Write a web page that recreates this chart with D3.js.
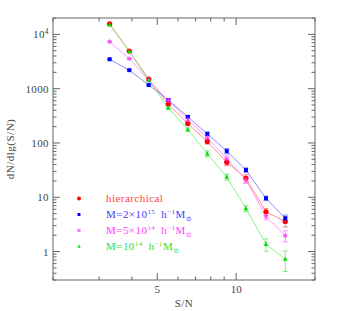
<!DOCTYPE html>
<html>
<head>
<meta charset="utf-8">
<script src="https://cdn.jsdelivr.net/npm/d3@7"></script>
<style>
  html, body { margin: 0; padding: 0; background: #fff; }
  text { font-family: "Liberation Serif", "DejaVu Serif", serif; }
</style>
</head>
<body>
<svg id="chart" width="343" height="311"></svg>
<script>
// S/N bin centres (log spaced) and counts per bin
var sn = [3.29, 3.91, 4.64, 5.51, 6.54, 7.76, 9.21, 10.9, 13.0, 15.4];

var hier      = [15600, 4940, 1500, 522, 228, 106, 44.4, 22.4, 5.4, 3.6];
var hierErr   = [120, 70, 40, 23, 15, 10, 6, 3.5, 0.8, 0.75];
var m2e15     = [3480, 2190, 1165, 618, 302, 147, 70.8, 31.8, 9.6, 4.1];
var m2e15Err  = [60, 45, 34, 25, 17, 12, 8, 3, 0.9, 0.6];
var m5e14     = [7310, 3570, 1440, 608, 269, 125, 51, 21, 4.45, 1.96];
var m5e14Err  = [85, 60, 38, 25, 16, 11, 6, 3, 0.6, 0.45];
var m1e14     = [15000, 4860, 1410, 441, 177, 63.4, 23.6, 6.24, 1.37, 0.73];
var m1e14Err  = [120, 70, 38, 21, 13, 8, 3, 0.8, 0.35, 0.3];

var yTickVals = [1, 10, 100, 1000, 10000];
var xTickVals = [5, 10];

var L = 53, T = 18, R = 315, B = 280;
var axisCol = "#666";

var svg = d3.select("#chart");

var x = d3.scaleLog().domain([2, 20]).range([L, R]);
var y = d3.scaleLog().domain([0.3, 20000]).range([B, T]);

// frame
svg.append("rect")
    .attr("x", L).attr("y", T)
    .attr("width", R - L).attr("height", B - T)
    .attr("fill", "none").attr("stroke", axisCol).attr("stroke-width", 1);

// minor + major ticks on all four sides, pointing in
var yMinor = [];
for (var e = -1; e <= 4; e++) {
    for (var k = 1; k <= 9; k++) {
        var v = k * Math.pow(10, e);
        if (v >= 0.3 && v <= 20000) yMinor.push({v: v, major: k === 1});
    }
}
var xMinor = [2, 3, 4, 5, 6, 7, 8, 9, 10, 20].map(v => ({v: v, major: (v === 5 || v === 10)}));

var ticks = svg.append("g").attr("stroke", axisCol).attr("stroke-width", 1);
ticks.selectAll(".yl").data(yMinor).join("line")
    .attr("x1", L).attr("x2", d => L + (d.major ? 7 : 3.5))
    .attr("y1", d => y(d.v)).attr("y2", d => y(d.v));
ticks.selectAll(".yr").data(yMinor).join("line")
    .attr("x1", R).attr("x2", d => R - (d.major ? 7 : 3.5))
    .attr("y1", d => y(d.v)).attr("y2", d => y(d.v));
ticks.selectAll(".xb").data(xMinor).join("line")
    .attr("y1", B).attr("y2", d => B - (d.major ? 7 : 3.5))
    .attr("x1", d => x(d.v)).attr("x2", d => x(d.v));
ticks.selectAll(".xt").data(xMinor).join("line")
    .attr("y1", T).attr("y2", d => T + (d.major ? 7 : 3.5))
    .attr("x1", d => x(d.v)).attr("x2", d => x(d.v));

// tick labels
var yLab = svg.append("g").attr("fill", "#444").attr("font-size", 11)
    .attr("text-anchor", "end").attr("letter-spacing", 0.4);
yTickVals.forEach(function(v) {
    var t = yLab.append("text").attr("x", L - 4).attr("y", y(v) + 4);
    if (v === 10000) {
        t.append("tspan").text("10");
        t.append("tspan").attr("font-size", 7.5).attr("dy", -4).text("4");
    } else {
        t.text(v);
    }
});
svg.append("g").attr("fill", "#444").attr("font-size", 11)
    .attr("text-anchor", "middle")
    .selectAll("text").data(xTickVals).join("text")
    .attr("x", d => x(d)).attr("y", B + 13)
    .text(d => d);

// axis titles
svg.append("text").attr("fill", "#444").attr("font-size", 11)
    .attr("text-anchor", "middle").attr("letter-spacing", 0.5)
    .attr("x", (L + R) / 2).attr("y", B + 27)
    .text("S/N");
svg.append("text").attr("fill", "#444").attr("font-size", 11)
    .attr("text-anchor", "middle").attr("letter-spacing", 0.5)
    .attr("transform", `translate(14,${(T + B) / 2}) rotate(-90)`)
    .text("dN/dlg(S/N)");

// series
var series = [
    {vals: hier,  err: hierErr,  col: "#ff0000", line: "#ff8080", shape: "circle"},
    {vals: m2e15, err: m2e15Err, col: "#0000ff", line: "#8080ff", shape: "square"},
    {vals: m5e14, err: m5e14Err, col: "#ff40ff", line: "#ff90ff", shape: "star"},
    {vals: m1e14, err: m1e14Err, col: "#00e000", line: "#80ee80", shape: "triangle"}
];

var lineGen = d3.line().x(d => x(d.sn)).y(d => y(d.v));

function marker(g, shape, col, s) {
    if (shape === "circle") {
        g.append("circle").attr("r", 2.6 * s).attr("fill", col);
    } else if (shape === "square") {
        g.append("rect").attr("x", -2 * s).attr("y", -2 * s)
            .attr("width", 4 * s).attr("height", 4 * s).attr("fill", col);
    } else if (shape === "triangle") {
        g.append("path").attr("d", `M0,${-2.6 * s}L${2.3 * s},${1.8 * s}L${-2.3 * s},${1.8 * s}Z`)
            .attr("fill", col);
    } else {
        [0, 60, 120].forEach(function(a) {
            g.append("line").attr("x1", -2.4 * s).attr("x2", 2.4 * s)
                .attr("transform", `rotate(${a + 90})`)
                .attr("stroke", col).attr("stroke-width", 1);
        });
    }
}

series.forEach(function(s) {
    var pts = sn.map((d, i) => ({sn: d, v: s.vals[i], e: s.err[i]}));
    svg.append("path").datum(pts)
        .attr("d", lineGen)
        .attr("fill", "none").attr("stroke", s.line).attr("stroke-width", 0.9);
    var eb = svg.append("g").attr("stroke", s.line).attr("stroke-width", 1);
    pts.forEach(function(p) {
        var y1 = y(p.v + p.e), y2 = y(Math.max(p.v - p.e, 0.01));
        var cx = x(p.sn);
        eb.append("line").attr("x1", cx).attr("x2", cx).attr("y1", y1).attr("y2", y2);
        eb.append("line").attr("x1", cx - 2.5).attr("x2", cx + 2.5).attr("y1", y1).attr("y2", y1);
        eb.append("line").attr("x1", cx - 2.5).attr("x2", cx + 2.5).attr("y1", y2).attr("y2", y2);
    });
});
series.forEach(function(s) {
    sn.forEach(function(d, i) {
        var g = svg.append("g").attr("transform", `translate(${x(d)},${y(s.vals[i])})`);
        marker(g, s.shape, s.col, 1);
    });
});

// legend
var legendY = [198.5, 214.5, 230.5, 246.5];
var leg = svg.append("g").attr("font-size", 11).attr("letter-spacing", 0.45);
series.forEach(function(s, i) {
    var g = leg.append("g").attr("transform", `translate(79,${legendY[i]})`);
    marker(g, s.shape, s.col, 0.75);
});
function legText(i, col) {
    return leg.append("text").attr("x", 106).attr("y", legendY[i] + 3.5).attr("fill", col);
}
legText(0, "#ff4040").text("hierarchical");
function massLabel(i, col, pre, exp) {
    var t = legText(i, col);
    t.append("tspan").text(pre + "10");
    t.append("tspan").attr("font-size", 7).attr("dy", -4).text(exp);
    t.append("tspan").attr("dy", 4).text("\u2002h");
    t.append("tspan").attr("font-size", 7).attr("dy", -4).text("\u22121");
    t.append("tspan").attr("dy", 4).text("M");
    t.append("tspan").attr("font-size", 7).attr("dy", 2.5).text("\u2299");
}
massLabel(1, "#4040ff", "M=2\u00d7", "15");
massLabel(2, "#ff40ff", "M=5\u00d7", "14");
massLabel(3, "#30e030", "M=", "14");
</script>
</body>
</html>
